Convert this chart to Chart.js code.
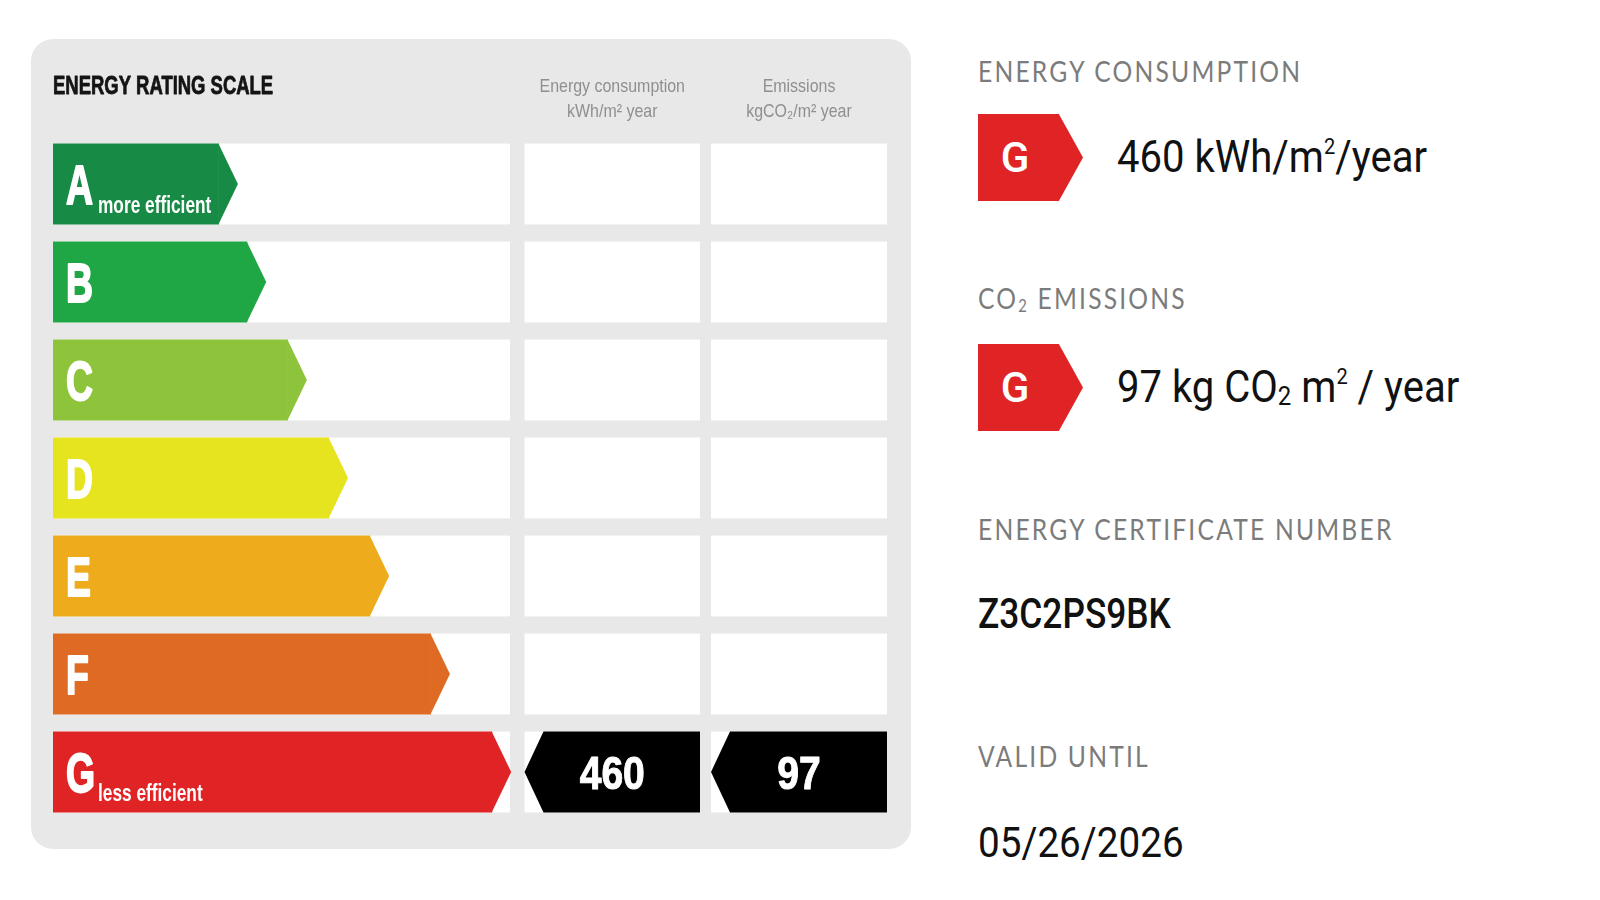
<!DOCTYPE html>
<html>
<head>
<meta charset="utf-8">
<script src="https://cdn.jsdelivr.net/npm/chart.js@4.4.1/dist/chart.umd.min.js"></script>
<style>
  body { margin: 0; width: 1600px; height: 900px; background: #fff; position: relative; overflow: hidden; font-family: Roboto, sans-serif; }
  .panel { position: absolute; left: 31px; top: 39px; width: 880px; height: 810px; background: #e8e8e8; border-radius: 22px; }
  .label { position: absolute; left: 978px; font-family: Lato, sans-serif; font-size: 28px; line-height: 1; letter-spacing: 2.5px; color: #7b7b7b;
           white-space: nowrap; transform: scaleX(0.88); transform-origin: left top; }
  .label sub { font-size: 0.6em; vertical-align: -0.15em; letter-spacing: 2.5px; }
  .value { position: absolute; left: 1117px; font-family: Roboto, sans-serif; font-size: 44px; line-height: 1; color: #111;
           white-space: nowrap; transform: scaleX(0.91); transform-origin: left top; }
  .value sub { font-size: 0.6em; vertical-align: -0.12em; }
  .value sup { font-size: 0.5em; vertical-align: 0.8em; }
  .plain { left: 978px; font-size: 42px; }
  .badge { position: absolute; left: 978px; width: 105px; height: 87px; background: #e02426;
           clip-path: polygon(0 0, 77% 0, 100% 50%, 77% 100%, 0 100%); }
  .badge span { position: absolute; left: 0; width: 74px; top: 0; height: 87px; line-height: 87px; text-align: center;
                color: #fff; font-family: Roboto, sans-serif; font-weight: 500; font-size: 42px; }
</style>
</head>
<body>
<div class="panel"><canvas id="scale"></canvas></div>

<div class="label" style="top:57px">ENERGY CONSUMPTION</div>
<div class="badge" style="top:114px"><span id="badge1"></span></div>
<div class="value" id="consumption" style="top:135px"></div>

<div class="label" style="top:284px">CO<sub>2</sub> EMISSIONS</div>
<div class="badge" style="top:344px"><span id="badge2"></span></div>
<div class="value" id="emissions" style="top:365px"></div>

<div class="label" style="top:515px">ENERGY CERTIFICATE NUMBER</div>
<div class="value plain" id="certificate" style="top:593px; font-weight:500; transform:scaleX(0.84)"></div>

<div class="label" style="top:742px">VALID UNTIL</div>
<div class="value plain" id="valid" style="top:822px; transform:scaleX(0.92)"></div>

<script>
// rating classes, top (most efficient) to bottom
const ratingLabels = ['A', 'B', 'C', 'D', 'E', 'F', 'G'];
const ratingNotes = ['more efficient', '', '', '', '', '', 'less efficient'];
// arrow body length of each class on a 0-100 scale
const barLengths = [36.3, 42.5, 51.4, 60.4, 69.4, 82.7, 96.1];
const ratingColors = ['#178b45', '#20a745', '#8dc43b', '#e6e41f', '#eeab1c', '#de6a24', '#e02426'];

const currentRating = 'G';
const consumptionValue = 460;
const emissionsValue = 97;
const certificateNumber = 'Z3C2PS9BK';
const validUntil = '05/26/2026';

const sans = '"Liberation Sans", Arial, sans-serif';
const tipLen = 19;

// condensed text: the installed fonts have no narrow cut, so squeeze horizontally
// (heavy > 0 adds an outline in the fill colour to thicken the strokes)
function squeezeText(ctx, text, x, y, font, squeeze, align, heavy) {
  ctx.save();
  ctx.font = font;
  ctx.textAlign = align || 'left';
  ctx.textBaseline = 'alphabetic';
  ctx.translate(x, y);
  ctx.scale(squeeze, 1);
  ctx.fillText(text, 0, 0);
  if (heavy) {
    ctx.strokeStyle = ctx.fillStyle;
    ctx.lineWidth = heavy;
    ctx.lineJoin = 'round';
    ctx.strokeText(text, 0, 0);
  }
  ctx.restore();
}

// the two value columns sit to the right of the scale
function valueColumns(area) {
  return [
    { left: area.right + 14.5, right: area.right + 190, head: ['Energy consumption', 'kWh/m\u00b2 year'], value: consumptionValue },
    { left: area.right + 201, right: area.right + 377, head: ['Emissions', 'kgCO\u2082/m\u00b2 year'], value: emissionsValue }
  ];
}

const scalePlugin = {
  id: 'energyScale',
  beforeDatasetsDraw(chart) {
    const { ctx, chartArea: a } = chart;
    const meta = chart.getDatasetMeta(0);
    const cols = valueColumns(a);
    ctx.save();
    ctx.fillStyle = '#141414';
    squeezeText(ctx, 'ENERGY RATING SCALE', a.left, a.top - 41, 'bold 26px ' + sans, 0.71, 'left', 0.8);

    ctx.fillStyle = '#8f8f8f';
    cols.forEach(c => {
      const cx = (c.left + c.right) / 2;
      squeezeText(ctx, c.head[0], cx, a.top - 43, '19px ' + sans, 0.84, 'center');
      squeezeText(ctx, c.head[1], cx, a.top - 18, '19px ' + sans, 0.84, 'center');
    });

    // white row cells
    ctx.fillStyle = '#ffffff';
    meta.data.forEach(bar => {
      const top = bar.y - bar.height / 2;
      ctx.fillRect(a.left, top, a.right - a.left, bar.height);
      cols.forEach(c => ctx.fillRect(c.left, top, c.right - c.left, bar.height));
    });
    ctx.restore();
  },
  afterDatasetsDraw(chart) {
    const { ctx, chartArea: a } = chart;
    const meta = chart.getDatasetMeta(0);
    ctx.save();
    meta.data.forEach((bar, i) => {
      const top = bar.y - bar.height / 2;
      const bottom = bar.y + bar.height / 2;
      // arrow tip
      ctx.fillStyle = ratingColors[i];
      ctx.beginPath();
      ctx.moveTo(bar.x - 0.5, top);
      ctx.lineTo(bar.x + tipLen, bar.y);
      ctx.lineTo(bar.x - 0.5, bottom);
      ctx.closePath();
      ctx.fill();
      // class letter
      ctx.fillStyle = '#ffffff';
      squeezeText(ctx, ratingLabels[i], bar.base + 13, bar.y + 20, 'bold 55px ' + sans, 0.68, 'left', 2);
      if (ratingNotes[i]) {
        squeezeText(ctx, ratingNotes[i], bar.base + 45, bar.y + 29, 'bold 24px ' + sans, 0.72);
      }
    });

    // black markers with the values in the row of the current class
    const bar = meta.data[ratingLabels.indexOf(currentRating)];
    const top = bar.y - bar.height / 2;
    const bottom = bar.y + bar.height / 2;
    valueColumns(a).forEach(c => {
      ctx.fillStyle = '#000000';
      ctx.beginPath();
      ctx.moveTo(c.left, bar.y);
      ctx.lineTo(c.left + tipLen, top);
      ctx.lineTo(c.right, top);
      ctx.lineTo(c.right, bottom);
      ctx.lineTo(c.left + tipLen, bottom);
      ctx.closePath();
      ctx.fill();
      ctx.fillStyle = '#ffffff';
      squeezeText(ctx, String(c.value), (c.left + c.right) / 2, bar.y + 16.5, 'bold 46px ' + sans, 0.85, 'center', 1);
    });
    ctx.restore();
  }
};

new Chart(document.getElementById('scale'), {
  type: 'bar',
  data: {
    labels: ratingLabels,
    datasets: [{
      data: barLengths,
      backgroundColor: ratingColors,
      borderWidth: 0,
      barPercentage: 0.825,
      categoryPercentage: 1
    }]
  },
  options: {
    indexAxis: 'y',
    responsive: true,
    maintainAspectRatio: false,
    animation: false,
    layout: { padding: { left: 22, right: 401, top: 96, bottom: 28 } },
    scales: {
      x: { display: false, min: 0, max: 100 },
      y: { display: false }
    },
    plugins: { legend: { display: false }, tooltip: { enabled: false } }
  },
  plugins: [scalePlugin]
});

// right hand summary
document.getElementById('badge1').textContent = currentRating;
document.getElementById('badge2').textContent = currentRating;
document.getElementById('consumption').innerHTML = consumptionValue + ' kWh/m<sup>2</sup>/year';
document.getElementById('emissions').innerHTML = emissionsValue + ' kg CO<sub>2</sub> m<sup>2</sup> / year';
document.getElementById('certificate').textContent = certificateNumber;
document.getElementById('valid').textContent = validUntil;
</script>
</body>
</html>
